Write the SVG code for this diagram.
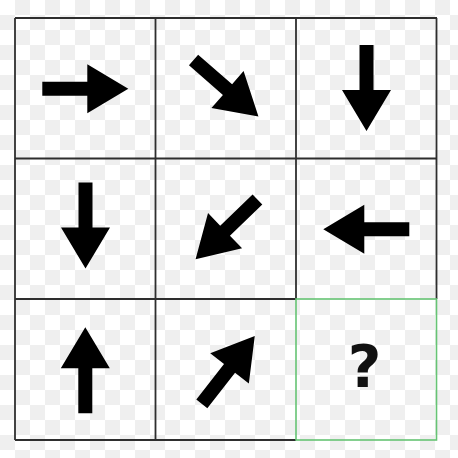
<svg xmlns="http://www.w3.org/2000/svg" width="458" height="458" viewBox="0 0 458 458">
  <defs>
    <pattern id="checker" x="0" y="0" width="30" height="30" patternUnits="userSpaceOnUse">
      <rect width="30" height="30" fill="#ffffff"/>
      <rect x="15" y="0" width="15" height="15" fill="#efefef"/>
      <rect x="0" y="15" width="15" height="15" fill="#efefef"/>
    </pattern>
    <path id="arrow" d="M-43,-7 H2 V-24.5 L43,0 L2,24.5 V7 H-43 Z" fill="#000"/>
  </defs>
  <style>
    .grid { stroke: #2e2e2e; stroke-width: 1.8; fill: none; }
    .answer { stroke: #66c474; stroke-width: 1.6; fill: none; }
    .q { font-family: "DejaVu Sans", "Liberation Sans", sans-serif; font-weight: bold; font-size: 58px; fill: #111; }
  </style>
  <rect width="458" height="458" fill="url(#checker)"/>
  <g id="grid-lines">
    <line class="grid" x1="15" y1="18" x2="437" y2="18"/>
    <line class="grid" x1="15" y1="158.5" x2="437" y2="158.5"/>
    <line class="grid" x1="15" y1="299" x2="296" y2="299"/>
    <line class="grid" x1="15" y1="440" x2="296" y2="440"/>
    <line class="grid" x1="15" y1="18" x2="15" y2="440"/>
    <line class="grid" x1="155.5" y1="18" x2="155.5" y2="440"/>
    <line class="grid" x1="296" y1="18" x2="296" y2="299"/>
    <line class="grid" x1="436.5" y1="18" x2="436.5" y2="299"/>
  </g>
  <g id="cell-1"><use href="#arrow" transform="translate(85.3,88.7)"/></g>
  <g id="cell-2"><use href="#arrow" transform="translate(226,88.3) rotate(41)"/></g>
  <g id="cell-3"><use href="#arrow" transform="translate(366.5,88) rotate(90)"/></g>
  <g id="cell-4"><use href="#arrow" transform="translate(85.5,225.5) rotate(90)"/></g>
  <g id="cell-5"><use href="#arrow" transform="translate(226.5,229.3) rotate(136)"/></g>
  <g id="cell-6"><use href="#arrow" transform="translate(366.3,229.3) rotate(180)"/></g>
  <g id="cell-7"><use href="#arrow" transform="translate(85.3,370.3) rotate(-90)"/></g>
  <g id="cell-8"><use href="#arrow" transform="translate(228.3,370) rotate(-52)"/></g>
  <g id="cell-9">
    <rect class="answer" x="296" y="299" width="140.5" height="141"/>
    <text class="q" x="364.5" y="387" text-anchor="middle">?</text>
  </g>
</svg>
